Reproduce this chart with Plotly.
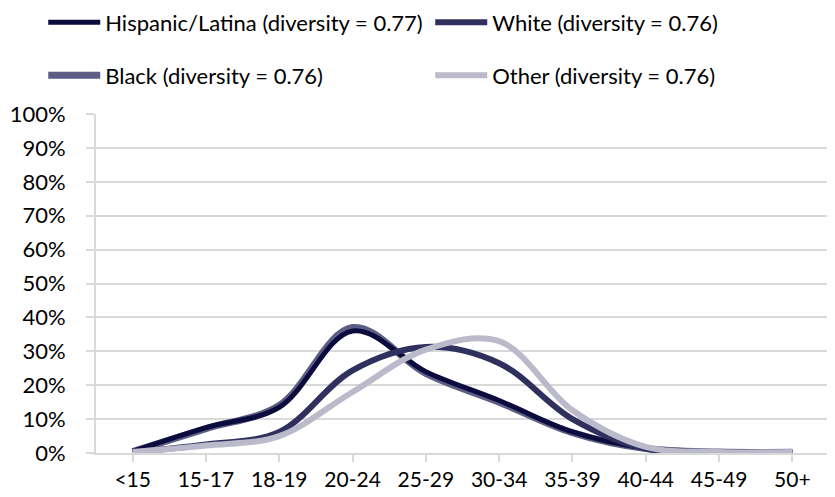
import plotly.graph_objs as go

# age groups on the category axis
age_groups = ["<15", "15-17", "18-19", "20-24", "25-29", "30-34", "35-39", "40-44", "45-49", "50+"]

# share of births by age group, per group
hispanic = [0.005, 0.075, 0.135, 0.36, 0.24, 0.155, 0.062, 0.014, 0.003, 0.002]
white = [0.003, 0.025, 0.062, 0.244, 0.313, 0.265, 0.10, 0.013, 0.003, 0.002]
black = [0.004, 0.072, 0.14, 0.37, 0.235, 0.15, 0.06, 0.013, 0.003, 0.002]
other = [0.003, 0.022, 0.05, 0.18, 0.305, 0.33, 0.126, 0.018, 0.003, 0.003]

names = ["Hispanic/Latina (diversity = 0.77)", "White (diversity = 0.76)",
         "Black (diversity = 0.76)", "Other (diversity = 0.76)"]
colors = ["#0b0b3d", "#30305f", "#5d5d85", "#babaca"]

FONT = "Lato"
x = list(range(len(age_groups)))

fig = go.Figure()

# black goes underneath so the hispanic line shows on top of it
fig.add_trace(go.Scatter(x=x, y=black, name=names[2], mode="lines",
                         line=dict(color=colors[2], width=7, shape="spline", smoothing=1),
                         legend="legend2", legendrank=1))
fig.add_trace(go.Scatter(x=x, y=hispanic, name=names[0], mode="lines",
                         line=dict(color=colors[0], width=5, shape="spline", smoothing=1),
                         legend="legend", legendrank=1))
fig.add_trace(go.Scatter(x=x, y=white, name=names[1], mode="lines",
                         line=dict(color=colors[1], width=6, shape="spline", smoothing=1),
                         legend="legend", legendrank=2))
fig.add_trace(go.Scatter(x=x, y=other, name=names[3], mode="lines",
                         line=dict(color=colors[3], width=6, shape="spline", smoothing=1),
                         legend="legend2", legendrank=2))

legend_style = dict(orientation="h", xanchor="left", yanchor="middle",
                    font=dict(family=FONT, size=22, color="#000000"),
                    bgcolor="rgba(0,0,0,0)", entrywidth=320, entrywidthmode="pixels",
                    itemwidth=52, traceorder="normal")

# the page body adds an 8px margin, so the figure is 8px smaller than the window
fig.update_layout(
    width=827, height=489,
    margin=dict(l=88, r=6, t=106, b=44, autoexpand=False),
    paper_bgcolor="white", plot_bgcolor="white",
    font=dict(family=FONT, size=22, color="#000000"),
    legend=dict(x=-0.072, y=1.27, **legend_style),
    legend2=dict(x=-0.072, y=1.114, **legend_style),
    xaxis=dict(
        range=[-0.5, 9.5], tickvals=x, ticktext=age_groups,
        showgrid=False, showline=True, linecolor="#d9d9d9", linewidth=2,
        ticks="outside", ticklen=7, tickwidth=2, tickcolor="#d9d9d9",
        ticklabelstandoff=0, tickfont=dict(size=21), automargin=False,
        zeroline=False, fixedrange=True,
    ),
    yaxis=dict(
        range=[0, 1], dtick=0.1, tickformat=".0%",
        showgrid=True, gridcolor="#d9d9d9", gridwidth=2,
        showline=True, linecolor="#d9d9d9", linewidth=2,
        ticks="outside", ticklen=8, tickwidth=2, tickcolor="#d9d9d9",
        ticklabelstandoff=16, automargin=False, zeroline=False, fixedrange=True,
    ),
)

# closing tick at the right end of the category axis
fig.add_shape(type="line", xref="x", yref="paper", x0=9.5, x1=9.5, y0=0, y1=-0.02,
              line=dict(color="#d9d9d9", width=2))

fig.write_html("out.html")
